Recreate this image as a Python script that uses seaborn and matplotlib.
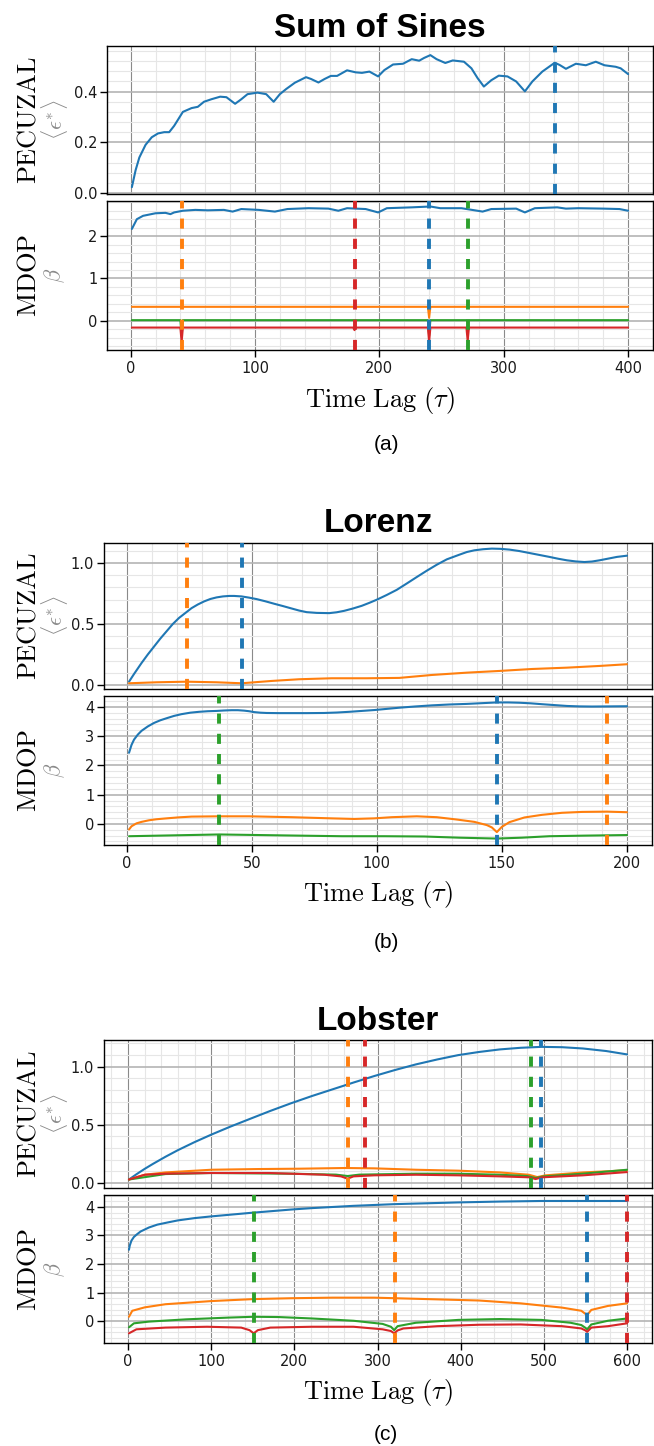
import matplotlib
matplotlib.use("Agg")
import matplotlib.pyplot as plt
import matplotlib.transforms as mtransforms
from matplotlib.ticker import AutoMinorLocator, MultipleLocator
import seaborn as sns

# ---------------- Sum of Sines ----------------
sos_pec_blue_tau = [1, 4, 7, 12, 17, 22, 27, 31, 35, 42, 49, 54, 59, 65, 72, 77, 84, 89, 94, 102,
                    109, 115, 120, 125, 132, 141, 145, 151, 156, 161, 166, 174, 181, 186, 192, 199,
                    204, 211, 219, 226, 232, 236, 241, 246, 253, 259, 268, 274, 279, 284, 290, 296,
                    303, 310, 317, 323, 331, 341, 345, 350, 358, 366, 374, 381, 390, 394, 400]
sos_pec_blue = [0.023, 0.09, 0.14, 0.19, 0.22, 0.235, 0.24, 0.24, 0.265, 0.32, 0.335, 0.34, 0.36,
                0.37, 0.38, 0.378, 0.352, 0.37, 0.39, 0.396, 0.39, 0.36, 0.39, 0.41, 0.435, 0.457,
                0.45, 0.436, 0.45, 0.462, 0.462, 0.484, 0.476, 0.474, 0.479, 0.46, 0.485, 0.507,
                0.51, 0.528, 0.522, 0.533, 0.544, 0.528, 0.513, 0.523, 0.518, 0.492, 0.453, 0.42,
                0.445, 0.463, 0.46, 0.44, 0.401, 0.44, 0.479, 0.514, 0.505, 0.49, 0.51, 0.504,
                0.518, 0.504, 0.498, 0.492, 0.469]

sos_mdop_blue_tau = [1, 5, 10, 20, 28, 32, 35, 42, 52, 62, 75, 82, 89, 103, 116, 126, 143, 159,
                     167, 174, 189, 199, 206, 226, 241, 249, 266, 283, 290, 310, 317, 325, 343,
                     350, 360, 380, 393, 400]
sos_mdop_blue = [2.17, 2.40, 2.48, 2.54, 2.55, 2.52, 2.56, 2.60, 2.62, 2.61, 2.62, 2.58, 2.64,
                 2.62, 2.58, 2.64, 2.66, 2.65, 2.60, 2.66, 2.64, 2.56, 2.66, 2.68, 2.70, 2.66,
                 2.66, 2.58, 2.64, 2.65, 2.56, 2.66, 2.68, 2.65, 2.66, 2.65, 2.64, 2.60]
sos_mdop_orange_tau = [1, 100, 239, 240, 241, 320, 400]
sos_mdop_orange = [0.33, 0.33, 0.33, 0.07, 0.33, 0.33, 0.33]
sos_mdop_green_tau = [1, 40, 41, 42, 239, 240, 241, 400]
sos_mdop_green = [0.015, 0.015, -0.35, 0.015, 0.015, -0.35, 0.015, 0.015]
sos_mdop_red_tau = [1, 40, 41, 42, 179, 180, 181, 239, 240, 241, 270, 271, 272, 400]
sos_mdop_red = [-0.16, -0.16, -0.5, -0.16, -0.16, -0.22, -0.16, -0.16, -0.5, -0.16,
                -0.16, -0.48, -0.16, -0.16]

sos_pec_tau_sel = {"blue": [341]}
sos_mdop_tau_sel = {"orange": [41], "red": [180], "blue": [240], "green": [271]}

# ---------------- Lorenz ----------------
lor_pec_blue_tau = [1, 3, 6, 8.5, 11, 13.5, 16, 18.5, 21, 23.5, 26, 28.5, 31, 33.5, 36, 38.5,
                    41, 43, 46, 49, 52, 55.5, 59, 62.5, 66, 69, 72, 76, 81, 84, 87, 90.5, 94,
                    97, 100, 104, 108, 112, 116, 120, 124, 128, 133, 136, 139, 142.5, 146,
                    149.5, 153, 157, 161, 165, 169, 172.5, 176, 179.5, 183, 186, 189, 192.5,
                    196, 198, 200]
lor_pec_blue = [0.027, 0.09, 0.18, 0.25, 0.315, 0.38, 0.44, 0.5, 0.55, 0.59, 0.63, 0.66, 0.685,
                0.705, 0.718, 0.726, 0.73, 0.73, 0.726, 0.716, 0.704, 0.686, 0.666, 0.647, 0.627,
                0.61, 0.597, 0.591, 0.589, 0.596, 0.608, 0.627, 0.649, 0.673, 0.699, 0.738, 0.78,
                0.832, 0.885, 0.937, 0.986, 1.03, 1.068, 1.09, 1.104, 1.113, 1.118, 1.116, 1.11,
                1.098, 1.082, 1.066, 1.05, 1.035, 1.022, 1.013, 1.008, 1.012, 1.022, 1.036,
                1.05, 1.055, 1.06]
lor_pec_orange_tau = [1, 12, 24, 36, 46, 58, 69, 82, 96, 109, 122, 136, 149, 162, 176, 189, 200]
lor_pec_orange = [0.014, 0.022, 0.027, 0.022, 0.014, 0.033, 0.047, 0.055, 0.055, 0.058, 0.082,
                  0.101, 0.115, 0.131, 0.142, 0.156, 0.17]

lor_mdop_blue_tau = [1, 2, 3, 4.5, 6, 8.5, 11, 13.5, 16, 19, 22, 25.5, 29, 32.5, 36, 39, 42,
                     44.5, 47, 49, 51, 53.5, 56, 61, 66, 72, 79, 84, 89, 94, 99, 104, 109, 115,
                     122, 129, 136, 142, 148, 152.5, 157, 161.5, 166, 171, 176, 181, 186, 193,
                     200]
lor_mdop_blue = [2.43, 2.7, 2.88, 3.05, 3.18, 3.33, 3.45, 3.54, 3.61, 3.69, 3.75, 3.8, 3.83,
                 3.85, 3.86, 3.875, 3.885, 3.885, 3.87, 3.85, 3.82, 3.80, 3.79, 3.785, 3.785,
                 3.785, 3.79, 3.805, 3.83, 3.86, 3.89, 3.93, 3.97, 4.01, 4.05, 4.08, 4.1, 4.125,
                 4.15, 4.15, 4.14, 4.12, 4.09, 4.06, 4.03, 4.015, 4.01, 4.015, 4.02]
lor_mdop_orange_tau = [1, 2, 4, 6, 9, 12, 16, 21, 26, 37, 49, 66, 82, 91, 99, 106, 116, 124,
                       132, 139, 144, 146, 148, 150, 153, 159, 166, 174, 182, 192, 200]
lor_mdop_orange = [-0.19, -0.08, 0.02, 0.07, 0.125, 0.16, 0.19, 0.225, 0.25, 0.26, 0.26, 0.23,
                   0.19, 0.17, 0.19, 0.23, 0.26, 0.23, 0.15, 0.07, -0.04, -0.12, -0.28, -0.1,
                   0.06, 0.22, 0.31, 0.38, 0.41, 0.42, 0.4]
lor_mdop_green_tau = [1, 19, 37, 53, 69, 86, 103, 119, 133, 148, 158, 169, 183, 200]
lor_mdop_green = [-0.42, -0.39, -0.36, -0.38, -0.40, -0.42, -0.42, -0.43, -0.47, -0.5, -0.47,
                  -0.42, -0.40, -0.38]

lor_pec_tau_sel = {"orange": [24], "blue": [46]}
lor_mdop_tau_sel = {"green": [37], "blue": [148], "orange": [192]}

# ---------------- Lobster ----------------
lob_pec_blue_tau = [1, 10, 20, 30, 45, 60, 80, 100, 123, 146, 171, 196, 221, 246, 271, 296,
                    321, 346, 372, 397, 422, 447, 472, 497, 522, 547, 575, 600]
lob_pec_blue = [0.03, 0.075, 0.122, 0.165, 0.226, 0.283, 0.352, 0.416, 0.485, 0.55, 0.62,
                0.686, 0.748, 0.806, 0.864, 0.92, 0.972, 1.02, 1.063, 1.1, 1.127, 1.149, 1.163,
                1.171, 1.168, 1.157, 1.135, 1.106]
lob_pec_orange_tau = [1, 20, 45, 100, 156, 206, 261, 296, 346, 397, 447, 482, 492, 502, 547, 600]
lob_pec_orange = [0.03, 0.071, 0.091, 0.114, 0.12, 0.123, 0.129, 0.126, 0.114, 0.106, 0.091,
                  0.071, 0.051, 0.066, 0.091, 0.109]
lob_pec_green_tau = [1, 45, 100, 196, 250, 264, 278, 346, 397, 447, 480, 490, 500, 547, 600]
lob_pec_green = [0.03, 0.077, 0.086, 0.08, 0.072, 0.06, 0.072, 0.08, 0.08, 0.071, 0.06, 0.043,
                 0.057, 0.08, 0.114]
lob_pec_red_tau = [1, 20, 45, 100, 170, 236, 256, 264, 271, 296, 346, 397, 447, 482, 490, 498,
                   547, 600]
lob_pec_red = [0.03, 0.071, 0.08, 0.086, 0.086, 0.071, 0.057, 0.037, 0.057, 0.066, 0.071, 0.066,
               0.057, 0.049, 0.034, 0.049, 0.066, 0.094]

lob_mdop_blue_tau = [1, 2, 4, 7, 11, 15, 25, 35, 48, 60, 80, 100, 123, 146, 171, 196, 221, 246,
                     271, 296, 321, 346, 372, 397, 422, 447, 472, 497, 547, 600]
lob_mdop_blue = [2.5, 2.65, 2.82, 2.95, 3.05, 3.14, 3.28, 3.38, 3.46, 3.53, 3.61, 3.67, 3.73,
                 3.79, 3.85, 3.91, 3.96, 4.0, 4.04, 4.07, 4.1, 4.12, 4.14, 4.16, 4.175, 4.19,
                 4.2, 4.21, 4.21, 4.21]
lob_mdop_orange_tau = [1, 5, 20, 45, 100, 151, 196, 246, 296, 321, 372, 422, 472, 522, 545,
                       550, 552, 557, 577, 600]
lob_mdop_orange = [0.15, 0.36, 0.48, 0.59, 0.7, 0.77, 0.8, 0.82, 0.82, 0.8, 0.76, 0.72, 0.62,
                   0.47, 0.36, 0.25, 0.21, 0.39, 0.53, 0.62]
lob_mdop_green_tau = [1, 7, 25, 70, 120, 151, 181, 221, 271, 306, 316, 320, 324, 346, 397, 447,
                      497, 532, 545, 550, 552, 557, 577, 600]
lob_mdop_green = [-0.22, -0.08, -0.02, 0.06, 0.12, 0.15, 0.14, 0.09, 0.01, -0.1, -0.2, -0.32,
                  -0.18, -0.06, 0.04, 0.07, 0.04, -0.06, -0.14, -0.24, -0.29, -0.12, 0.01, 0.09]
lob_mdop_red_tau = [1, 10, 45, 95, 136, 146, 151, 156, 171, 221, 271, 306, 316, 320, 324, 331,
                    372, 422, 472, 522, 545, 550, 552, 557, 577, 600]
lob_mdop_red = [-0.43, -0.29, -0.23, -0.2, -0.23, -0.32, -0.43, -0.32, -0.23, -0.2, -0.2, -0.29,
                -0.35, -0.43, -0.33, -0.26, -0.18, -0.13, -0.12, -0.18, -0.26, -0.33, -0.38,
                -0.23, -0.18, -0.08]

lob_pec_tau_sel = {"orange": [264], "red": [285], "green": [485], "blue": [496]}
lob_mdop_tau_sel = {"green": [151], "orange": [321], "blue": [552], "red": [600]}

# ---------------- styling ----------------
sns.set_theme(style="whitegrid")
plt.rcParams["font.family"] = ["DejaVu Sans"]
plt.rcParams["mathtext.fontset"] = "cm"
plt.rcParams["text.color"] = "black"

pal = sns.color_palette("tab10")
COL = {"blue": pal[0], "orange": pal[1], "green": pal[2], "red": pal[3]}

W, H = 654, 1446
fig = plt.figure(figsize=(W / 100, H / 100), dpi=100)


def box(left, top, right, bottom):
    return [left / W, 1 - bottom / H, (right - left) / W, (bottom - top) / H]


def style_axes(ax, xmajor, ymajor, show_x):
    ax.xaxis.set_major_locator(MultipleLocator(xmajor))
    ax.xaxis.set_minor_locator(AutoMinorLocator(5))
    ax.yaxis.set_major_locator(MultipleLocator(ymajor))
    ax.yaxis.set_minor_locator(AutoMinorLocator(5))
    ax.grid(False)
    ax.grid(which="minor", axis="both", color="#e6e6e6", lw=0.8)
    ax.grid(which="major", axis="y", color="#b4b4b4", lw=1.2)
    ax.grid(which="major", axis="x", color="#8a8a8a", lw=0.8)
    ax.set_axisbelow(True)
    for sp in ax.spines.values():
        sp.set_color("black")
        sp.set_linewidth(1.0)
    ax.tick_params(which="minor", length=0)
    ax.tick_params(axis="y", which="major", left=True, length=5, width=1, color="black",
                   labelsize=10.5, labelcolor="#1a1a1a", pad=2)
    ax.tick_params(axis="x", which="major", bottom=show_x, length=5 if show_x else 0, width=1,
                   color="black", labelsize=10.5, labelcolor="#1a1a1a", labelbottom=show_x, pad=3)
    ax.set_xlabel("")
    ax.set_ylabel("")


def draw_series(ax, series, selections):
    for name, tau, vals in series:
        sns.lineplot(x=tau, y=vals, ax=ax, color=COL[name], linewidth=1.5, estimator=None)
    for name, taus in selections.items():
        for t in taus:
            ax.axvline(t, color=COL[name], lw=2.8, linestyle=(0, (2.6, 2.6)), zorder=3)


def side_labels(ax, top_line, bottom_line):
    tr = mtransforms.blended_transform_factory(fig.transFigure, ax.transAxes)
    ax.text(28 / W, 0.5, top_line, transform=tr, rotation=90, ha="center", va="center",
            fontsize=19, color="black")
    ax.text(55 / W, 0.5, bottom_line, transform=tr, rotation=90, ha="center", va="center",
            fontsize=16, color="#8a8a8a")


panels = [
    dict(title="Sum of Sines", tag="(a)", xlim=(-19, 420), xmajor=100, xc=380, title_y=37,
         top=(107, 46, 653, 194), bot=(107, 201, 653, 350),
         pec_ylim=(-0.004, 0.58), pec_major=0.2, mdop_ylim=(-0.69, 2.83), mdop_major=1,
         pec=[("blue", sos_pec_blue_tau, sos_pec_blue)],
         mdop=[("blue", sos_mdop_blue_tau, sos_mdop_blue),
               ("orange", sos_mdop_orange_tau, sos_mdop_orange),
               ("green", sos_mdop_green_tau, sos_mdop_green),
               ("red", sos_mdop_red_tau, sos_mdop_red)],
         pec_sel=sos_pec_tau_sel, mdop_sel=sos_mdop_tau_sel, xlab_y=400, tag_y=445),
    dict(title="Lorenz", tag="(b)", xlim=(-9, 210), xmajor=50, xc=378, title_y=532,
         top=(104, 543, 652, 689), bot=(104, 696, 652, 845),
         pec_ylim=(-0.033, 1.164), pec_major=0.5, mdop_ylim=(-0.72, 4.37), mdop_major=1,
         pec=[("blue", lor_pec_blue_tau, lor_pec_blue),
              ("orange", lor_pec_orange_tau, lor_pec_orange)],
         mdop=[("blue", lor_mdop_blue_tau, lor_mdop_blue),
               ("orange", lor_mdop_orange_tau, lor_mdop_orange),
               ("green", lor_mdop_green_tau, lor_mdop_green)],
         pec_sel=lor_pec_tau_sel, mdop_sel=lor_mdop_tau_sel, xlab_y=895, tag_y=942),
    dict(title="Lobster", tag="(c)", xlim=(-29, 630), xmajor=100, xc=378, title_y=1030,
         top=(104, 1040, 652, 1188), bot=(104, 1195, 652, 1343),
         pec_ylim=(-0.043, 1.23), pec_major=0.5, mdop_ylim=(-0.77, 4.42), mdop_major=1,
         pec=[("blue", lob_pec_blue_tau, lob_pec_blue),
              ("orange", lob_pec_orange_tau, lob_pec_orange),
              ("green", lob_pec_green_tau, lob_pec_green),
              ("red", lob_pec_red_tau, lob_pec_red)],
         mdop=[("blue", lob_mdop_blue_tau, lob_mdop_blue),
               ("orange", lob_mdop_orange_tau, lob_mdop_orange),
               ("green", lob_mdop_green_tau, lob_mdop_green),
               ("red", lob_mdop_red_tau, lob_mdop_red)],
         pec_sel=lob_pec_tau_sel, mdop_sel=lob_mdop_tau_sel, xlab_y=1393, tag_y=1434),
]

for p in panels:
    ax_top = fig.add_axes(box(*p["top"]))
    ax_bot = fig.add_axes(box(*p["bot"]), sharex=ax_top)

    draw_series(ax_top, p["pec"], p["pec_sel"])
    draw_series(ax_bot, p["mdop"], p["mdop_sel"])

    ax_top.set_xlim(*p["xlim"])
    ax_top.set_ylim(*p["pec_ylim"])
    ax_bot.set_ylim(*p["mdop_ylim"])
    style_axes(ax_top, p["xmajor"], p["pec_major"], show_x=False)
    style_axes(ax_bot, p["xmajor"], p["mdop_major"], show_x=True)

    side_labels(ax_top, r"$\mathrm{PECUZAL}$", r"$\langle\epsilon^{*}\rangle$")
    side_labels(ax_bot, r"$\mathrm{MDOP}$", r"$\beta$")

    fig.text(p["xc"] / W, 1 - p["title_y"] / H, p["title"], ha="center", va="baseline",
             fontsize=24, fontweight="bold", color="black",
             family=["Liberation Sans", "DejaVu Sans"])
    fig.text(p["xc"] / W, 1 - p["xlab_y"] / H, r"$\mathrm{Time\ Lag\ (\tau)}$",
             ha="center", va="center", fontsize=19, color="black")
    fig.text(386 / W, 1 - p["tag_y"] / H, p["tag"], ha="center", va="center",
             fontsize=15, family=["Liberation Sans", "DejaVu Sans"], color="black")

fig.savefig("out.png", dpi=100)
